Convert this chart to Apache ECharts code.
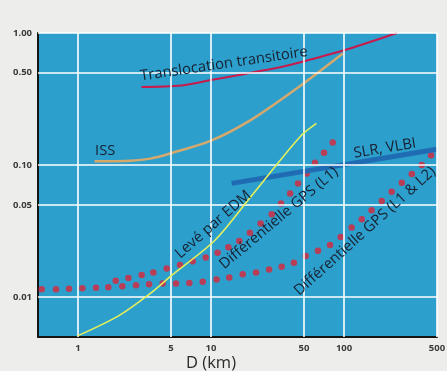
<!DOCTYPE html>
<html><head><meta charset="utf-8">
<script src="https://cdn.jsdelivr.net/npm/echarts@6/dist/echarts.min.js"></script>
<style>html,body{margin:0;padding:0;background:#ededeb}#c{width:447px;height:371px}</style>
</head><body><div id="c"></div>
<script>
// ---- data ----
const xTicks = [1, 5, 10, 50, 100, 500];
const xTickLabels = ['1', '5', '10', '50', '100', '500'];
const yTicks = [0.01, 0.05, 0.1, 0.5, 1];
const yTickLabels = ['0.01', '0.05', '0.10', '0.50', '1.00'];

const translocX = [3, 6, 10, 18, 33, 44, 100, 250];
const translocY = [0.39, 0.40, 0.44, 0.49, 0.55, 0.59, 0.74, 1.0];

const issX = [1.33, 2.5, 3.5, 5, 10, 20, 44, 98];
const issY = [0.107, 0.108, 0.112, 0.123, 0.153, 0.22, 0.38, 0.70];

const edmX = [0.99, 2, 3.5, 5, 10.7, 20, 46.7, 62];
const edmY = [0.0051, 0.0072, 0.0107, 0.0145, 0.027, 0.058, 0.164, 0.207];

const slrX = [14.3, 500];
const slrY = [0.0727, 0.132];

const gpsL1X = [1.92, 2.39, 3.01, 3.68, 4.64, 5.84, 7.28, 9.12, 11.2, 13.5, 16.3, 19.6, 23.6, 28.6, 33.6, 39.3, 45.1, 52.4, 60.5, 70.7, 82.2];
const gpsL1Y = [0.0133, 0.0140, 0.0147, 0.0154, 0.0165, 0.0175, 0.0187, 0.0200, 0.0217, 0.0239, 0.0266, 0.0307, 0.0362, 0.0425, 0.0513, 0.0610, 0.0727, 0.0865, 0.104, 0.124, 0.148];

const gpsL12X = [0.533, 0.683, 0.855, 1.077, 1.365, 1.689, 2.151, 2.728, 3.42, 4.33, 5.45, 6.87, 8.66, 11.0, 13.7, 17.3, 21.8, 27.3, 34.0, 42.0, 51.5, 63.7, 78.4, 94.4, 114, 136, 161, 192, 228, 272, 323, 384, 451];
const gpsL12Y = [0.0115, 0.0115, 0.0116, 0.0117, 0.0118, 0.0119, 0.0121, 0.0123, 0.01255, 0.0127, 0.0127, 0.0128, 0.0131, 0.0136, 0.0141, 0.0149, 0.0154, 0.0162, 0.0170, 0.0182, 0.0205, 0.0225, 0.0248, 0.0286, 0.0337, 0.0390, 0.0456, 0.0536, 0.0628, 0.0734, 0.0855, 0.100, 0.119];

// annotation texts (anchor in data space)
const annotations = [
  {text: 'Translocation transitoire', x: 12.5, y: 0.582, angle: 8.4},
  {text: 'ISS', x: 1.6, y: 0.1277, angle: 0},
  {text: 'SLR, VLBI', x: 203, y: 0.1338, angle: 9.5},
  {text: 'Levé par EDM', x: 10.4, y: 0.0355, angle: 41},
  {text: 'Différentielle GPS (L1)', x: 32.4, y: 0.0397, angle: 40},
  {text: 'Différentielle GPS (L1 & L2)', x: 143.8, y: 0.0316, angle: 42}
];

const zip = (a, b) => a.map((v, i) => [v, b[i]]);
const FONT = '"Open Sans", "DejaVu Sans", sans-serif';

const chart = echarts.init(document.getElementById('c'), null, {renderer: 'canvas'});

const gridLines = [];
xTicks.forEach((v, i) => gridLines.push({xAxis: v, label: {formatter: xTickLabels[i]}}));
yTicks.forEach((v, i) => gridLines.push({yAxis: v, label: {formatter: yTickLabels[i]}}));

chart.setOption({
  animation: false,
  backgroundColor: '#ededeb',
  grid: {left: 38, right: 10, top: 33, bottom: 34, show: true, backgroundColor: '#2d9fcc', borderWidth: 0},
  xAxis: {
    type: 'log', logBase: 10, min: 0.5, max: 500,
    axisLine: {show: true, lineStyle: {color: '#151515', width: 2}},
    axisTick: {show: false}, axisLabel: {show: false}, splitLine: {show: false}, minorSplitLine: {show: false}
  },
  yAxis: {
    type: 'log', logBase: 10, min: 0.005, max: 1,
    axisLine: {show: true, lineStyle: {color: '#151515', width: 2}},
    axisTick: {show: false}, axisLabel: {show: false}, splitLine: {show: false}, minorSplitLine: {show: false}
  },
  series: [
    {
      type: 'line', data: [], silent: true, z: 1,
      markLine: {
        silent: true, symbol: 'none', animation: false,
        lineStyle: {color: '#ffffff', width: 1.6, type: 'solid', opacity: 1},
        label: {show: true, position: 'start', color: '#3a3a3a', fontSize: 9.5, fontWeight: 'bold', fontFamily: FONT, distance: 6},
        emphasis: {disabled: true},
        data: gridLines
      }
    },
    {type: 'line', name: 'Translocation transitoire', data: zip(translocX, translocY), smooth: 0.3, showSymbol: false, symbol: 'none',
      lineStyle: {color: '#c81a4c', width: 2}, z: 3},
    {type: 'line', name: 'ISS', data: zip(issX, issY), smooth: 0.3, showSymbol: false, symbol: 'none',
      lineStyle: {color: '#d5a86c', width: 2.5}, z: 3},
    {type: 'scatter', name: 'GPS L1', data: zip(gpsL1X, gpsL1Y), symbol: 'circle', symbolSize: 6.5,
      itemStyle: {color: '#db263b'}, z: 3},
    {type: 'scatter', name: 'GPS L1 & L2', data: zip(gpsL12X, gpsL12Y), symbol: 'circle', symbolSize: 6.5,
      itemStyle: {color: '#db263b'}, z: 3},
    {type: 'line', name: 'SLR, VLBI', data: zip(slrX, slrY), showSymbol: false, symbol: 'none',
      lineStyle: {color: '#1f6cb4', width: 5}, z: 4},
    {type: 'line', name: 'Levé par EDM', data: zip(edmX, edmY), smooth: 0.3, showSymbol: false, symbol: 'none',
      lineStyle: {color: '#e4ef5c', width: 1.6}, z: 5}
  ]
});

const graphics = annotations.map(a => {
  const p = chart.convertToPixel({xAxisIndex: 0, yAxisIndex: 0}, [a.x, a.y]);
  return {
    type: 'text', x: p[0], y: p[1], rotation: a.angle * Math.PI / 180, z: 10, silent: true,
    style: {text: a.text, font: '14.8px ' + FONT, fill: '#172030', align: 'center', verticalAlign: 'middle',
      textAlign: 'center', textVerticalAlign: 'middle'}
  };
});
const px10 = chart.convertToPixel({xAxisIndex: 0, yAxisIndex: 0}, [10, 0.005]);
graphics.push({
  type: 'text', x: px10[0], y: px10[1] + 26, z: 10, silent: true,
  style: {text: 'D (km)', font: '16.5px ' + FONT, fill: '#2a2a2a', align: 'center', verticalAlign: 'middle',
    textAlign: 'center', textVerticalAlign: 'middle'}
});
chart.setOption({graphic: graphics});
</script>
</body></html>
